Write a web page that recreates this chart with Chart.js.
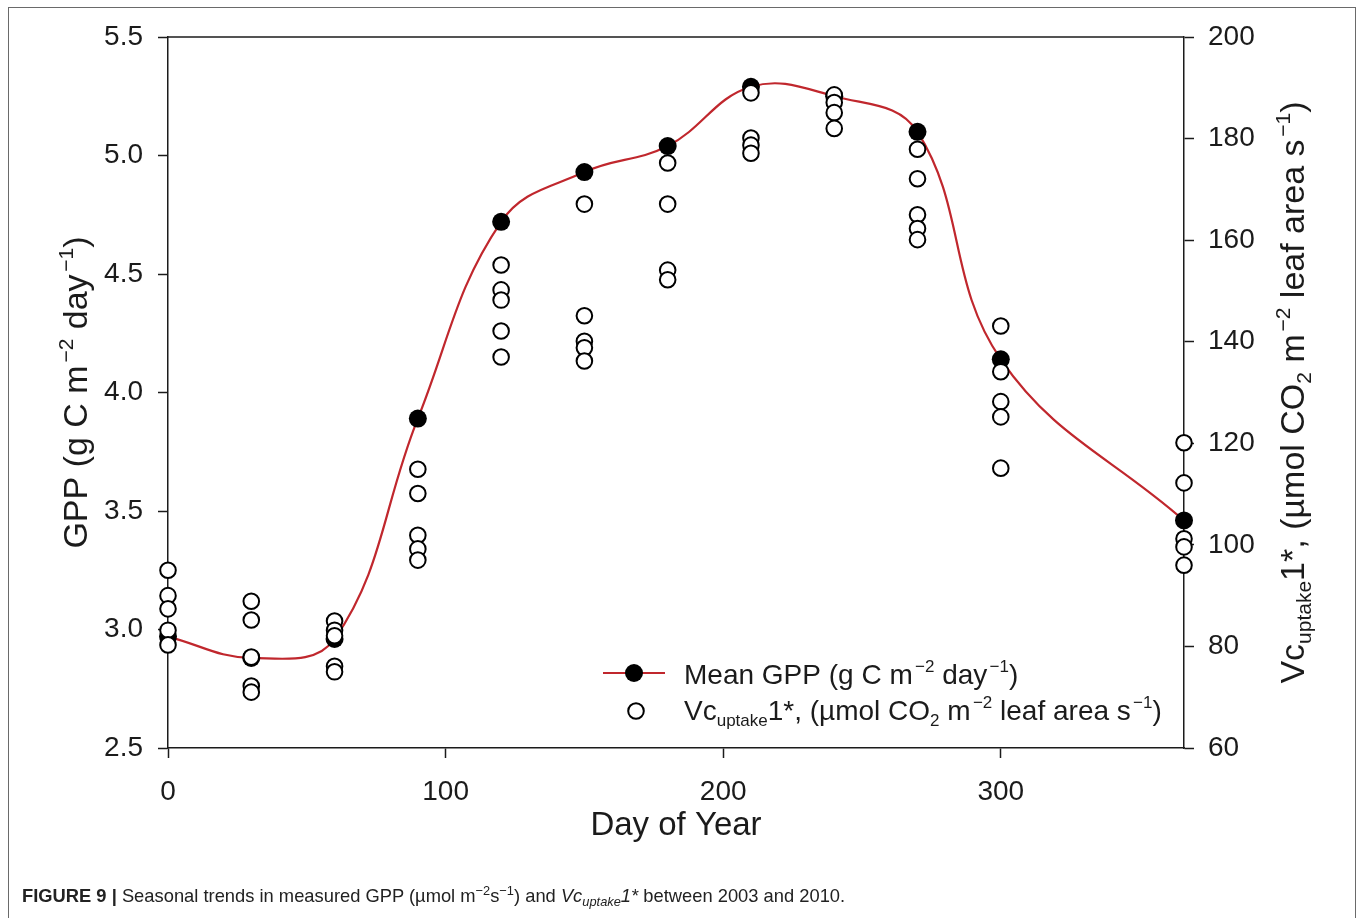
<!DOCTYPE html>
<html>
<head>
<meta charset="utf-8">
<script src="https://cdn.jsdelivr.net/npm/chart.js@4.4.0/dist/chart.umd.min.js"></script>
<style>
body { margin: 0; background: #fff; }
#wrap { position: relative; width: 1357px; height: 918px; overflow: hidden; }
#frame { position: absolute; left: 8px; top: 7px; width: 1346px; height: 1000px; border: 1px solid #6a6a6a; border-bottom: none; }
#c { position: absolute; left: 0; top: 0; }
#caption { position: absolute; left: 22px; top: 885px; font-family: "Liberation Sans", Arial, sans-serif; font-size: 19px; color: #222; white-space: nowrap; line-height: 22px; transform: scaleX(0.965); transform-origin: left top; }
#caption sup, #caption sub { font-size: 70%; line-height: 0; position: relative; vertical-align: baseline; }
#caption sup { top: -0.5em; }
#caption sub { top: 0.3em; }
</style>
</head>
<body>
<div id="wrap">
  <div id="frame"></div>
  <canvas id="c" width="1357" height="918"></canvas>
  <div id="caption"><b>FIGURE 9 |</b> Seasonal trends in measured GPP (µmol m<sup>−2</sup>s<sup>−1</sup>) and <i>Vc<sub>uptake</sub>1*</i> between 2003 and 2010.</div>
</div>
<script>
// Values ------------------------------
var days = [0, 30, 60, 90, 120, 150, 180, 210, 240, 270, 300, 366];
var meanGpp = [2.97, 2.88, 2.96, 3.89, 4.72, 4.93, 5.04, 5.29, 5.25, 5.10, 4.14, 3.46];

// one list of yearly Vc uptake values per sampling day
var vcUptake = [
    [95.0, 90.0, 87.4, 83.2, 80.3],
    [88.9, 85.2, 77.9, 72.2, 71.0],
    [85.0, 83.2, 82.1, 76.1, 75.0],
    [114.9, 110.1, 101.9, 99.2, 97.0],
    [155.1, 150.2, 148.2, 142.1, 137.0],
    [167.1, 145.1, 140.1, 138.8, 136.2],
    [175.2, 167.1, 154.1, 152.2],
    [189.0, 180.1, 178.7, 177.1],
    [188.6, 187.1, 185.1, 182.0],
    [177.9, 172.1, 165.0, 162.3, 160.1],
    [143.1, 134.1, 128.2, 125.2, 115.1],
    [120.1, 112.2, 101.2, 99.6, 96.0]
];

var xTicks = [0, 100, 200, 300];
var gppTicks = [2.5, 3.0, 3.5, 4.0, 4.5, 5.0, 5.5];
var vcTicks = [60, 80, 100, 120, 140, 160, 180, 200];

// Build the datasets ----------
var gppPoints = days.map(function (d, i) { return { x: d, y: meanGpp[i] }; });

var vcPoints = [];
days.forEach(function (d, i) {
    vcUptake[i].forEach(function (v) { vcPoints.push({ x: d, y: v }); });
});

var FONT = '"Liberation Sans", Arial, sans-serif';
var RED = '#c0272d';
var INK = '#1b1b1b';

// Text with super/subscripts: parts = [[text, 0 normal | 1 sup | -1 sub], ...]
function partFont(size, mode) {
    return (mode === 0 ? size : Math.round(size * 0.62)) + 'px ' + FONT;
}
function richWidth(ctx, parts, size) {
    var w = 0;
    parts.forEach(function (p) {
        ctx.font = partFont(size, p[1]);
        w += ctx.measureText(p[0]).width + (p[1] === 1 ? size * 0.08 : 0);
    });
    return w;
}
function drawRich(ctx, parts, x, y, size, align) {
    var w = richWidth(ctx, parts, size);
    var cx = align === 'center' ? x - w / 2 : x;
    ctx.textBaseline = 'alphabetic';
    ctx.textAlign = 'left';
    parts.forEach(function (p) {
        ctx.font = partFont(size, p[1]);
        var dy = p[1] === 1 ? -size * 0.42 : (p[1] === -1 ? size * 0.22 : 0);
        if (p[1] === 1) cx += size * 0.08;
        ctx.fillText(p[0], cx, y + dy);
        cx += ctx.measureText(p[0]).width;
    });
}

var gppTitle = [['GPP (g C m', 0], ['\u22122', 1], [' day', 0], ['\u22121', 1], [')', 0]];
var vcTitle = [['Vc', 0], ['uptake', -1], ['1*, (\u00b5mol CO', 0], ['2', -1], [' m', 0], ['\u22122', 1],
               [' leaf area s', 0], ['\u22121', 1], [')', 0]];
var gppLegend = [['Mean GPP (g C m', 0], ['\u22122', 1], [' day', 0], ['\u22121', 1], [')', 0]];

var decorPlugin = {
    id: 'decor',
    afterDraw: function (chart) {
        var ctx = chart.ctx;
        var a = chart.chartArea;
        ctx.save();

        // top edge of the plot box
        ctx.strokeStyle = INK;
        ctx.lineWidth = 1.5;
        ctx.beginPath();
        ctx.moveTo(a.left, a.top);
        ctx.lineTo(a.right, a.top);
        ctx.stroke();

        ctx.fillStyle = INK;
        // axis titles
        drawRich(ctx, [['Day of Year', 0]], (a.left + a.right) / 2, 835, 33, 'center');

        ctx.save();
        ctx.translate(87, (a.top + a.bottom) / 2);
        ctx.rotate(-Math.PI / 2);
        drawRich(ctx, gppTitle, 0, 0, 34, 'center');
        ctx.restore();

        ctx.save();
        ctx.translate(1304, (a.top + a.bottom) / 2);
        ctx.rotate(-Math.PI / 2);
        drawRich(ctx, vcTitle, 0, 0, 34, 'center');
        ctx.restore();

        // legend
        ctx.strokeStyle = RED;
        ctx.lineWidth = 2;
        ctx.beginPath();
        ctx.moveTo(603, 673);
        ctx.lineTo(665, 673);
        ctx.stroke();
        ctx.fillStyle = '#000';
        ctx.beginPath();
        ctx.arc(634, 673, 9, 0, Math.PI * 2);
        ctx.fill();
        ctx.fillStyle = '#fff';
        ctx.strokeStyle = '#000';
        ctx.beginPath();
        ctx.arc(636, 711, 7.8, 0, Math.PI * 2);
        ctx.fill();
        ctx.stroke();

        ctx.fillStyle = INK;
        drawRich(ctx, gppLegend, 684, 684, 28, 'left');
        drawRich(ctx, vcTitle, 684, 720, 28, 'left');

        ctx.restore();
    }
};

var ctx = document.getElementById('c').getContext('2d');

var myChart = new Chart(ctx, {
    type: 'line',
    data: {
        datasets: [
            {
                label: 'Mean GPP',
                data: gppPoints,
                yAxisID: 'y',
                borderColor: RED,
                borderWidth: 2.2,
                tension: 0.4,
                pointRadius: 9,
                pointBackgroundColor: '#000',
                pointBorderColor: '#000',
                pointBorderWidth: 0,
                clip: false,
                order: 2
            },
            {
                type: 'scatter',
                label: 'Vc uptake',
                data: vcPoints,
                yAxisID: 'y2',
                showLine: false,
                pointRadius: 7.8,
                pointBackgroundColor: '#fff',
                pointBorderColor: '#000',
                pointBorderWidth: 2,
                clip: false,
                order: 1
            }
        ]
    },
    options: {
        responsive: false,
        animation: false,
        devicePixelRatio: 1,
        layout: { padding: { top: 37, left: 0, right: 0, bottom: 0 } },
        plugins: {
            legend: { display: false },
            tooltip: { enabled: false }
        },
        scales: {
            x: {
                type: 'linear',
                min: 0,
                max: 366,
                afterBuildTicks: function (s) { s.ticks = xTicks.map(function (v) { return { value: v }; }); },
                afterFit: function (s) { s.height = 170; },
                grid: { drawOnChartArea: false, drawTicks: true, tickLength: 10, tickWidth: 1.5, color: INK },
                border: { display: true, color: INK, width: 1.5 },
                ticks: { color: INK, padding: 17, maxRotation: 0, font: { family: FONT, size: 28 } }
            },
            y: {
                position: 'left',
                min: 2.5,
                max: 5.5,
                afterBuildTicks: function (s) { s.ticks = gppTicks.map(function (v) { return { value: v }; }); },
                afterFit: function (s) { s.width = 168; },
                grid: { drawOnChartArea: false, drawTicks: true, tickLength: 10, tickWidth: 1.5, color: INK },
                border: { display: true, color: INK, width: 1.5 },
                ticks: {
                    color: INK, padding: 15, font: { family: FONT, size: 28 },
                    callback: function (v) { return v.toFixed(1); }
                }
            },
            y2: {
                position: 'right',
                min: 60,
                max: 200,
                afterBuildTicks: function (s) { s.ticks = vcTicks.map(function (v) { return { value: v }; }); },
                afterFit: function (s) { s.width = 173; },
                grid: { drawOnChartArea: false, drawTicks: true, tickLength: 10, tickWidth: 1.5, color: INK },
                border: { display: true, color: INK, width: 1.5 },
                ticks: { color: INK, padding: 14, font: { family: FONT, size: 28 } }
            }
        }
    },
    plugins: [decorPlugin]
});
</script>
</body>
</html>
